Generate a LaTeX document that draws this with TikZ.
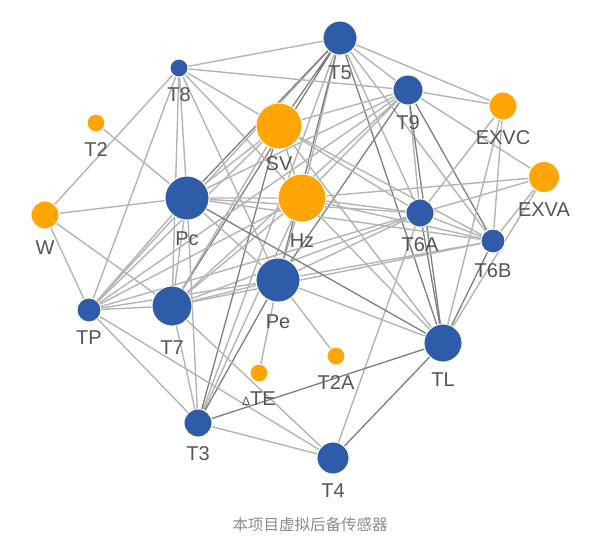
\documentclass[tikz,border=0pt]{standalone}
\usepackage{fontspec}
\setmainfont{Liberation Sans}
\newfontfamily\cjkfont{Noto Sans CJK SC}
\usetikzlibrary{backgrounds}
\definecolor{SensorBlue}{HTML}{2E5CA8}
\definecolor{SensorOrange}{HTML}{FFA506}
\definecolor{Wire}{HTML}{B4B4B4}
\definecolor{WireDark}{HTML}{7E7E7E}
\definecolor{LabelInk}{HTML}{555555}
\definecolor{CaptionInk}{HTML}{8A8A8A}
\tikzset{
  sensor/.style={circle, inner sep=0pt, draw=white, line width=0.9pt},
  real/.style={sensor, fill=SensorBlue},
  virtual/.style={sensor, fill=SensorOrange},
  every label/.style={inner sep=0pt, text=LabelInk,
    font=\fontsize{20}{20}\selectfont},
  wire/.style={draw=Wire, line width=1.4pt},
  wiredark/.style={draw=WireDark, line width=1.3pt},
}

\begin{document}
\begin{tikzpicture}[x=1pt,y=-1pt,label distance=10pt]
  \useasboundingbox (0,0) rectangle (589,550);

  % Sensors kept in the project (blue) and their virtual back-ups (orange).
  \node[real, minimum size=34pt, label=below:T5] (t5) at (340,38) {};
  \node[real, minimum size=18pt, label=below:T8] (t8) at (179,68) {};
  \node[real, minimum size=30pt, label=below:T9] (t9) at (408,90) {};
  \node[virtual, minimum size=18pt, label=below:T2] (t2) at (96,123) {};
  \node[virtual, minimum size=46pt, label={[label distance=7pt]below:SV}] (sv) at (279,126) {};
  \node[virtual, minimum size=28pt, label=below:EXVC] (exvc) at (503,106) {};
  \node[virtual, minimum size=31pt, label=below:EXVA] (exva) at (544,177) {};
  \node[real, minimum size=44pt, label={[label distance=11pt]below:Pc}] (pc) at (187,198) {};
  \node[virtual, minimum size=48pt, label={[label distance=11pt]below:Hz}] (hz) at (302,198) {};
  \node[virtual, minimum size=28pt, label={[label distance=11pt]below:W}] (w) at (45,215) {};
  \node[real, minimum size=28pt, label=below:T6A] (t6a) at (420,213) {};
  \node[real, minimum size=24pt, label=below:T6B] (t6b) at (493,241) {};
  \node[real, minimum size=44pt, label={[label distance=12pt]below:Pe}] (pe) at (278,280) {};
  \node[real, minimum size=24pt, label={[label distance=8pt]below:TP}] (tp) at (89,310) {};
  \node[real, minimum size=40pt, label={[label distance=14pt]below:T7}] (t7) at (172,306) {};
  \node[virtual, minimum size=18pt, label=below:T2A] (t2a) at (336,356) {};
  \node[virtual, minimum size=18pt,
    label={[label distance=9pt]below:{\fontsize{12}{12}\selectfont Δ}TE}] (te) at (259,373) {};
  \node[real, minimum size=38pt, label=below:TL] (tl) at (443,343) {};
  \node[real, minimum size=28pt, label={[label distance=9pt]below:T3}] (t3) at (198,423) {};
  \node[real, minimum size=32pt, label={[label distance=9pt]below:T4}] (t4) at (333,458) {};

  \node[font=\cjkfont\fontsize{15.5}{16}\selectfont, text=CaptionInk] (caption)
    at (310,525) {本项目虚拟后备传感器};

  \begin{scope}[on background layer]
    % Top of the graph: T5, T8 and T9 reach almost everything.
    \draw[wire] (t5) -- (t8) (t5) -- (t9) (t5) -- (exvc) (t5) -- (hz)
      (t5) -- (t6a) (t5) -- (t6b) (t5) -- (tp) (t5) -- (t3);
    \draw[wiredark] (t5) -- (sv) (t5) -- (pc) (t5) -- (t7) (t5) -- (pe)
      (t5) -- (tl);
    \draw[wire] (t8) -- (t9) (t8) -- (sv) (t8) -- (hz) (t8) -- (pe)
      (t8) -- (pc) (t8) -- (t7) (t8) -- (tp) (t8) -- (w);
    \draw[wire] (t9) -- (sv) (t9) -- (exvc) (t9) -- (exva) (t9) -- (t6a)
      (t9) -- (pc) (t9) -- (t7) (t9) -- (tp) (t9) -- (hz);
    \draw[wiredark] (t9) -- (t6b) (t9) -- (tl) (t9) -- (pe);

    % Right-hand side.
    \draw[wire] (exvc) -- (t6a) (exvc) -- (t6b) (exvc) -- (tl);
    \draw[wire] (exva) -- (t6a) (exva) -- (t6b) (exva) -- (tl) (exva) -- (hz);
    \draw[wire] (t6a) -- (t6b) (t6a) -- (t7) (t6a) -- (tp) (t6a) -- (t4)
      (t6a) -- (pe) (t6b) -- (pe) (t6b) -- (t7);
    \draw[wiredark] (t6a) -- (tl) (t6b) -- (tl);

    % Middle: SV, Hz, Pc, Pe.
    \draw[wire] (sv) -- (pc) (sv) -- (hz) (sv) -- (t6a) (sv) -- (t6b)
      (sv) -- (t7) (sv) -- (tp) (sv) -- (tl);
    \draw[wiredark] (sv) -- (t3);
    \draw[wire] (hz) -- (pc) (hz) -- (t6a) (hz) -- (t6b) (hz) -- (t7)
      (hz) -- (tp) (hz) -- (t3) (hz) -- (tl) (hz) -- (pe);
    \draw[wire] (pc) -- (t2) (pc) -- (w) (pc) -- (t6a) (pc) -- (t6b)
      (pc) -- (t7) (pc) -- (tp) (pc) -- (t3) (pc) -- (pe);
    \draw[wiredark] (pc) -- (tl);
    \draw[wire] (pe) -- (t7) (pe) -- (tp) (pe) -- (tl) (pe) -- (te)
      (pe) -- (t2a);
    \draw[wiredark] (pe) -- (t3);

    % Lower left and bottom.
    \draw[wire] (w) -- (tp) (w) -- (t7) (tp) -- (t7) (tp) -- (t3)
      (tp) -- (t4) (t7) -- (t3) (t7) -- (t4) (t3) -- (t4);
    \draw[wiredark] (t3) -- (tl) (tl) -- (t4);
  \end{scope}
\end{tikzpicture}
\end{document}
